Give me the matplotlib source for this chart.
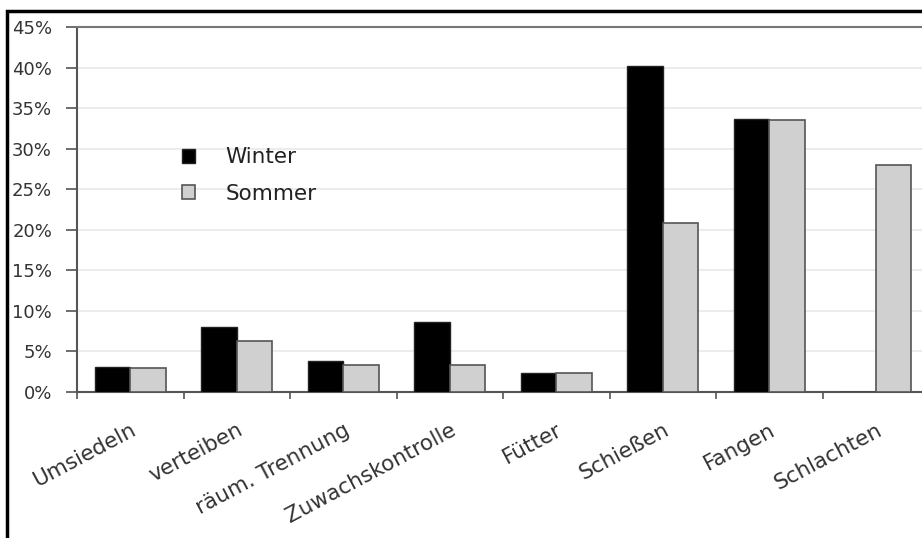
import matplotlib
matplotlib.use("Agg")
import matplotlib.pyplot as plt
from matplotlib.patches import Rectangle
from matplotlib.ticker import MultipleLocator, FuncFormatter
import numpy as np

plt.rcParams['font.family'] = ['DejaVu Sans']

categories = ["Umsiedeln", "verteiben", "räum. Trennung", "Zuwachskontrolle",
              "Fütter", "Schießen", "Fangen", "Schlachten"]
winter = [3.1, 8.0, 3.8, 8.6, 2.3, 40.2, 33.7, 0.0]
sommer = [3.0, 6.3, 3.3, 3.3, 2.4, 20.8, 33.5, 28.0]
series_names = ["Winter", "Sommer"]

W, H = 922, 538
fig = plt.figure(figsize=(W/100, H/100), dpi=100)
# axes in pixel coords: left 77, right 929 (cut off), top 27, bottom 392
ax = fig.add_axes([77/W, 1-392/H, (929-77)/W, (392-27)/H])

x = np.arange(len(categories))
bw = 0.335
ax.bar(x - bw/2, winter, bw, color="black", edgecolor="#222222", linewidth=1, label=series_names[0], zorder=3)
ax.bar(x + bw/2, sommer, bw, color="#d0d0d0", edgecolor="#555555", linewidth=1.2, label=series_names[1], zorder=3)

ax.set_xlim(-0.5, len(categories) - 0.5)
ax.set_ylim(0, 45)
ax.yaxis.set_major_locator(MultipleLocator(5))
ax.yaxis.set_major_formatter(FuncFormatter(lambda v, p: f"{v:.0f}%"))
ax.grid(axis="y", color="#ececec", linewidth=1.5, zorder=0)

ax.set_xticks(np.arange(len(categories) + 1) - 0.5, minor=False)
ax.set_xticklabels([])
ax.set_xticks(x, minor=True)
ax.set_xticklabels(categories, minor=True, rotation=28, ha="right", va="top",
                   rotation_mode="anchor", fontsize=15.5, color="#333333")
ax.tick_params(axis="x", which="minor", length=0, pad=20)
ax.tick_params(axis="x", which="major", length=5, direction="out", color="#555555", width=1.2)
ax.tick_params(axis="y", length=8, direction="out", color="#555555", width=1.2,
               labelsize=13, labelcolor="#333333", pad=10)

for s in ["left", "bottom"]:
    ax.spines[s].set_color("#555555")
    ax.spines[s].set_linewidth(1.5)
ax.spines["top"].set_color("#777777")
ax.spines["top"].set_linewidth(1.5)
ax.spines["right"].set_visible(False)

leg = ax.legend(loc="upper left", bbox_to_anchor=((163-77)/(929-77), 1-(128-27)/(392-27)),
                frameon=False, fontsize=15.5, handlelength=0.6, handleheight=0.6,
                handletextpad=1.4, labelspacing=0.75, labelcolor="#222222")

fig.patches.append(Rectangle((7/W, -0.1), 1.2, 1-11/H+0.1, transform=fig.transFigure,
                             fill=False, edgecolor="black", linewidth=2.5))

fig.savefig("out.png", dpi=100)
